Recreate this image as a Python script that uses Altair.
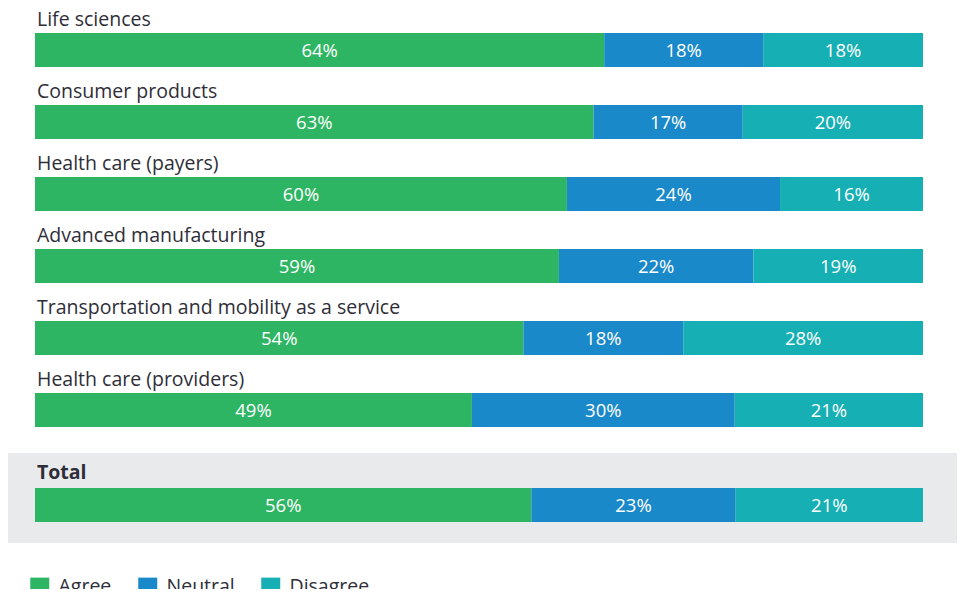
import altair as alt
import pandas as pd

industries = [
    "Life sciences",
    "Consumer products",
    "Health care (payers)",
    "Advanced manufacturing",
    "Transportation and mobility as a service",
    "Health care (providers)",
]
# printed percentages
agree = [64, 63, 60, 59, 54, 49]
neutral = [18, 17, 24, 22, 18, 30]
disagree = [18, 20, 16, 19, 28, 21]
# bar lengths as drawn (share of the full bar, %)
agree_len = [64.1, 62.9, 59.9, 59.0, 55.0, 49.2]
neutral_len = [17.9, 16.8, 24.0, 21.9, 18.0, 29.6]
disagree_len = [18.0, 20.3, 16.1, 19.1, 27.0, 21.2]

total_name = "Total"
total_values = [56, 23, 21]
total_len = [55.9, 23.0, 21.1]

responses = ["Agree", "Neutral", "Disagree"]
colors = ["#2db563", "#1a89c9", "#16afb4"]

FONT = "Open Sans"
TEXT_COLOR = "#2e2e38"
LABEL_SIZE = 19.5

rows = []
for i, name in enumerate(industries):
    for r, v, ln in zip(responses, (agree[i], neutral[i], disagree[i]),
                        (agree_len[i], neutral_len[i], disagree_len[i])):
        rows.append({"industry": name, "response": r, "value": v, "length": ln})
top_df = pd.DataFrame(rows)
total_df = pd.DataFrame({
    "industry": [total_name] * 3,
    "response": responses,
    "value": total_values,
    "length": total_len,
})

x_scale = alt.Scale(domain=[0, 100], range=[27, 915])
color_scale = alt.Scale(domain=responses, range=colors)
legend = alt.Legend(
    orient="none", legendX=22, legendY=569, direction="horizontal", title=None,
    symbolType="square", symbolSize=361, symbolStrokeWidth=0, symbolOpacity=1,
    labelFontSize=LABEL_SIZE, labelFont=FONT, labelColor=TEXT_COLOR, labelOffset=9,
    columnPadding=26,
)

top_y_scale = alt.Scale(type="band", domain=industries, range=[25, 419],
                        paddingInner=1 - 34 / 72, paddingOuter=0)
total_y_scale = alt.Scale(type="band", domain=[total_name], range=[480, 514],
                          paddingInner=0, paddingOuter=0)


def stacked(df):
    return alt.Chart(df).transform_calculate(
        order="indexof(['Agree','Neutral','Disagree'], datum.response)"
    ).transform_stack(
        stack="length", as_=["x0", "x1"], groupby=["industry"],
        sort=[alt.SortField("order", order="ascending")],
    ).transform_calculate(
        mid="(datum.x0 + datum.x1) / 2", label="datum.value + '%'"
    )


def panel(df, y_scale, label_dy, weight):
    base = stacked(df)
    bars = base.mark_bar().encode(
        x=alt.X("x0:Q", scale=x_scale, axis=None),
        x2="x1:Q",
        y=alt.Y("industry:N", scale=y_scale, axis=None),
        color=alt.Color("response:N", scale=color_scale, legend=legend),
    )
    pct = base.mark_text(color="white", fontSize=18.5, font=FONT, baseline="middle", dy=1).encode(
        x=alt.X("mid:Q", scale=x_scale, axis=None),
        y=alt.Y("industry:N", scale=y_scale, axis=None, bandPosition=0.5),
        text="label:N",
    )
    names = alt.Chart(df).transform_filter("datum.response == 'Agree'").mark_text(
        align="left", baseline="alphabetic", fontSize=LABEL_SIZE, font=FONT,
        color=TEXT_COLOR, dy=label_dy, fontWeight=weight,
    ).encode(
        x=alt.value(29),
        y=alt.Y("industry:N", scale=y_scale, axis=None, bandPosition=0),
        text="industry:N",
    )
    return [bars, pct, names]


bg = alt.Chart(total_df).transform_filter("datum.response == 'Agree'").mark_rect(color="#e9eaec").encode(
    x=alt.value(-1), x2=alt.value(953), y=alt.value(445), y2=alt.value(535)
)

layers = [bg] + panel(top_df, top_y_scale, -7, "normal") + panel(total_df, total_y_scale, -9, "bold")

chart = alt.layer(*layers).resolve_scale(y="independent").properties(
    width=949, height=581, padding=0, autosize=alt.AutoSizeParams(type="none"),
    background="white",
).configure_view(stroke=None)

chart.save("out.html", embed_options={"renderer": "svg", "actions": False})
